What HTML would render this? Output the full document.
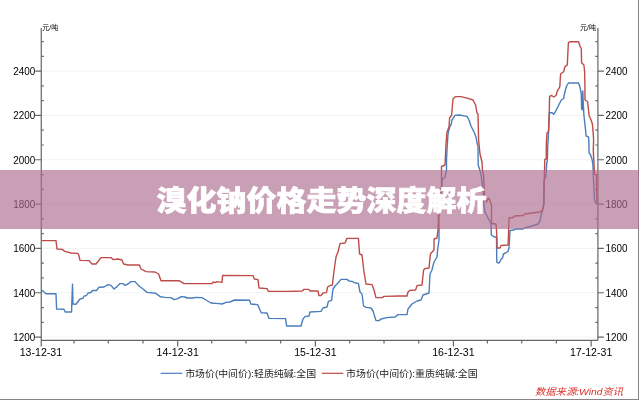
<!DOCTYPE html>
<html lang="zh-CN">
<head>
<meta charset="utf-8">
<title>溴化钠价格走势深度解析</title>
<style>
html,body{margin:0;padding:0;background:#fff;}
body{width:639px;height:400px;overflow:hidden;position:relative;font-family:"Liberation Sans","Noto Sans CJK SC",sans-serif;}
.wrap{position:absolute;left:0;top:0;width:638px;height:399px;border-right:1px solid #858585;border-bottom:1px solid #858585;background:#fff;}
svg{position:absolute;left:0;top:0;display:block;}
.num{font-family:"Liberation Sans",sans-serif;font-size:10.5px;fill:#000;}
.unit{font-family:"Liberation Sans","Noto Sans CJK SC",sans-serif;font-size:6.5px;fill:#000;}
.leg{font-family:"Liberation Sans","Noto Sans CJK SC",sans-serif;font-size:9.5px;fill:#222;}
.src{font-family:"Liberation Sans","Noto Sans CJK SC",sans-serif;font-size:9.5px;fill:#d8302a;font-style:italic;}
.band{position:absolute;left:0;top:169.8px;width:639px;height:58.8px;background:rgba(170,108,142,0.65);}
.title{position:absolute;left:2px;top:171.3px;transform:scaleY(0.96);transform-origin:center center;width:639px;height:59px;line-height:59px;text-align:center;color:#fff;font-weight:900;font-size:30px;font-family:"Liberation Sans","Noto Sans CJK SC",sans-serif;white-space:nowrap;margin:0;-webkit-text-stroke:0.7px #fff;}
</style>
</head>
<body>
<div class="wrap">
<svg width="639" height="400" viewBox="0 0 639 400">
<line x1="41.25" y1="71.1" x2="597.9" y2="71.1" stroke="#f2f2f2" stroke-width="1"/>
<line x1="41.25" y1="115.43" x2="597.9" y2="115.43" stroke="#f2f2f2" stroke-width="1"/>
<line x1="41.25" y1="159.76" x2="597.9" y2="159.76" stroke="#f2f2f2" stroke-width="1"/>
<line x1="41.25" y1="204.09" x2="597.9" y2="204.09" stroke="#f2f2f2" stroke-width="1"/>
<line x1="41.25" y1="248.42" x2="597.9" y2="248.42" stroke="#f2f2f2" stroke-width="1"/>
<line x1="41.25" y1="292.75" x2="597.9" y2="292.75" stroke="#f2f2f2" stroke-width="1"/>
<line x1="41.25" y1="337.08" x2="597.9" y2="337.08" stroke="#f2f2f2" stroke-width="1"/>
<path d="M41.25 28 V346.6 M597.9 28 V340.3 M41.25 340.3 H597.9" stroke="#666" stroke-width="1.2" fill="none"/>
<path d="M41.25 41.5467 H43.75 M595.4 41.5467 H597.9 M41.25 56.3233 H43.75 M595.4 56.3233 H597.9 M35.25 71.1 H41.25 M597.9 71.1 H603.9 M41.25 85.8767 H43.75 M595.4 85.8767 H597.9 M41.25 100.653 H43.75 M595.4 100.653 H597.9 M35.25 115.43 H41.25 M597.9 115.43 H603.9 M41.25 130.207 H43.75 M595.4 130.207 H597.9 M41.25 144.983 H43.75 M595.4 144.983 H597.9 M35.25 159.76 H41.25 M597.9 159.76 H603.9 M41.25 174.537 H43.75 M595.4 174.537 H597.9 M41.25 189.313 H43.75 M595.4 189.313 H597.9 M35.25 204.09 H41.25 M597.9 204.09 H603.9 M41.25 218.867 H43.75 M595.4 218.867 H597.9 M41.25 233.643 H43.75 M595.4 233.643 H597.9 M35.25 248.42 H41.25 M597.9 248.42 H603.9 M41.25 263.197 H43.75 M595.4 263.197 H597.9 M41.25 277.973 H43.75 M595.4 277.973 H597.9 M35.25 292.75 H41.25 M597.9 292.75 H603.9 M41.25 307.527 H43.75 M595.4 307.527 H597.9 M41.25 322.303 H43.75 M595.4 322.303 H597.9 M35.25 337.08 H41.25 M597.9 337.08 H603.9 M73.97 340.3 V343.5 M108.295 340.3 V343.5 M142.998 340.3 V343.5 M177.7 340.3 V346.6 M211.648 340.3 V343.5 M245.973 340.3 V343.5 M280.676 340.3 V343.5 M315.378 340.3 V346.6 M349.703 340.3 V343.5 M384.028 340.3 V343.5 M418.731 340.3 V343.5 M453.433 340.3 V346.6 M487.381 340.3 V343.5 M521.706 340.3 V343.5 M556.409 340.3 V343.5 M591.111 340.3 V346.6" stroke="#666" stroke-width="1.2" fill="none"/>
<text x="13.2" y="74.9" class="num" textLength="22" lengthAdjust="spacingAndGlyphs">2400</text>
<text x="605.6" y="74.9" class="num" textLength="22" lengthAdjust="spacingAndGlyphs">2400</text>
<text x="13.2" y="119.23" class="num" textLength="22" lengthAdjust="spacingAndGlyphs">2200</text>
<text x="605.6" y="119.23" class="num" textLength="22" lengthAdjust="spacingAndGlyphs">2200</text>
<text x="13.2" y="163.56" class="num" textLength="22" lengthAdjust="spacingAndGlyphs">2000</text>
<text x="605.6" y="163.56" class="num" textLength="22" lengthAdjust="spacingAndGlyphs">2000</text>
<text x="13.2" y="207.89" class="num" textLength="22" lengthAdjust="spacingAndGlyphs">1800</text>
<text x="605.6" y="207.89" class="num" textLength="22" lengthAdjust="spacingAndGlyphs">1800</text>
<text x="13.2" y="252.22" class="num" textLength="22" lengthAdjust="spacingAndGlyphs">1600</text>
<text x="605.6" y="252.22" class="num" textLength="22" lengthAdjust="spacingAndGlyphs">1600</text>
<text x="13.2" y="296.55" class="num" textLength="22" lengthAdjust="spacingAndGlyphs">1400</text>
<text x="605.6" y="296.55" class="num" textLength="22" lengthAdjust="spacingAndGlyphs">1400</text>
<text x="13.2" y="340.88" class="num" textLength="22" lengthAdjust="spacingAndGlyphs">1200</text>
<text x="605.6" y="340.88" class="num" textLength="22" lengthAdjust="spacingAndGlyphs">1200</text>
<text x="40.9" y="356.2" text-anchor="middle" class="num" textLength="42.4" lengthAdjust="spacingAndGlyphs">13-12-31</text>
<text x="177.7" y="356.2" text-anchor="middle" class="num" textLength="42.4" lengthAdjust="spacingAndGlyphs">14-12-31</text>
<text x="315.378" y="356.2" text-anchor="middle" class="num" textLength="42.4" lengthAdjust="spacingAndGlyphs">15-12-31</text>
<text x="453.433" y="356.2" text-anchor="middle" class="num" textLength="42.4" lengthAdjust="spacingAndGlyphs">16-12-31</text>
<text x="591.111" y="356.2" text-anchor="middle" class="num" textLength="42.4" lengthAdjust="spacingAndGlyphs">17-12-31</text>
<text x="42.2" y="29.8" class="unit" textLength="16" lengthAdjust="spacingAndGlyphs">元/吨</text>
<text x="580" y="29.8" class="unit" textLength="16" lengthAdjust="spacingAndGlyphs">元/吨</text>
<path d="M41.6 290 L46 293.8 L56 293.8 L56.6 309 L64 309.2 L65.2 312 L71.6 312 L71.8 304 L72.5 284.2 L73 304 L76 304.2 L80 299 L83 298.2 L84 296.2 L86.5 295.5 L88 293 L91 292.5 L92.5 290.5 L96.5 290.5 L99 287.2 L104 287 L108 284.6 L111 285.4 L114 289 L117 286.6 L120 283.6 L123 283.6 L125 285.4 L128 284 L131 281.6 L135 281.6 L139 286 L143 289 L147 292.4 L155.4 293.2 L160.6 296.8 L165 297.4 L171 297.6 L174 299.6 L178 298.6 L181 296.6 L185 297 L187 298 L193 298 L196 297.4 L202 297.6 L206 300 L211 303 L219 303.6 L222 304 L226 302.4 L230 302 L234.4 300 L249.6 300.3 L250.8 304 L257.6 304.6 L259.6 309 L261.2 312.8 L267 313 L269 318.4 L285.6 318.6 L286.6 326 L301 326 L303 319 L305 316.6 L309 316 L310 312 L321 311.4 L323 308 L327 307 L328.4 301.4 L331.6 300.4 L333 289 L335 286 L338 283 L341 279.4 L347 279.4 L349 281 L352 281.4 L355 283 L358.4 283.4 L360 292 L362 294 L363.6 306 L366 307.4 L371 308 L373 311 L376 320.6 L379 320.6 L381 319 L387 317.6 L395 317 L398 314.6 L407 314.6 L408 309 L412 304 L417 301 L421 300 L423 295 L429 293 L430 274 L432 270 L434 262 L437 257 L437.6 250 L439 240 L439 214 L442.5 179 L445 177 L446.5 170 L446.5 160 L447 150 L448 134 L449.6 127 L451 125 L452 120 L455 115.4 L459 115 L467 116.4 L469 120 L471 126 L474 132 L476 137 L477 143 L478 146 L478.2 165 L479.5 169 L481 175 L482.5 185 L483.5 195 L484 206 L485 212 L487 216 L489 220 L491 223.5 L491.3 235 L493.5 236.5 L496.5 237.5 L496.8 262 L498 263 L499.5 262.5 L501 259.5 L502.5 258 L503.5 254 L505.5 253 L508 251.5 L509 248 L509.5 240 L510 230.5 L514 230 L515.5 229 L523 229 L524.5 228 L532 226 L538 224 L540 221 L541 215 L543 209 L544 203 L544.4 179 L545.8 177.6 L546.7 164 L547.3 161 L547.8 145 L548.5 133 L549.3 112.8 L552.3 112.8 L553.8 114.3 L556 110.5 L559 104.5 L561.3 100 L563.6 98.5 L565 91.5 L566.6 86 L568.4 83 L578.6 83 L580 87 L581.3 94 L581.6 109 L582.4 109.8 L582.8 91 L583.1 100 L583.9 115 L585.4 128.6 L586.1 136 L588.4 136.8 L588.8 140 L589.1 152.8 L590.6 155 L592.1 159.5 L592.9 164.8 L593.3 175 L594.5 200 L596.5 204 L597 204" stroke="#4a7ebb" stroke-width="1.4" fill="none" stroke-linejoin="round"/>
<path d="M41.5 240.6 L56 240.6 L57 249 L62 249.4 L65 251.4 L71 253 L78 253.4 L79 256 L80 260.4 L89 260.6 L92 264 L96 264 L101 257.6 L111 257.6 L113 259.6 L118 259 L122 260 L123.6 264 L128 265 L139.4 265 L141 269 L146 271.6 L155 272 L158.6 274 L161 280.8 L179 280.6 L184 283.6 L212 283.6 L213 282 L215 282.6 L217 281.6 L222 282.4 L222.6 275.4 L253 275.6 L254.4 279 L258 279.6 L259 288 L267 288.6 L268.4 291.4 L288 291.4 L302 291 L304 289.4 L309 289.4 L310 291 L318 291 L319 295.6 L321 295.6 L323 293 L326.4 292.6 L327.6 287 L330 285.6 L332.4 285 L334 271 L336 257 L338 252 L340 243.6 L345 243 L347 238.4 L358.4 238.4 L359.6 254 L362 255 L364 272 L366 284 L372 284.6 L374 290 L376 297.6 L382 297.6 L384 296.4 L400 296 L407 296 L408 292 L410 290.4 L415.6 290 L417 285.6 L422 285 L423.6 270 L425 268.6 L429 268 L430.4 254 L433 251 L434 250 L434 239 L437 238 L438 230 L438.5 214 L441.5 186 L441.5 166.5 L445 165 L446 144 L447 132 L449 127 L449.6 118 L451.6 115 L453 99 L455.6 96.6 L461 96.6 L468 98.4 L473 100 L475.6 105 L477 113 L478 114 L478.6 140 L480 154 L482 162 L482.5 171 L483.5 175 L484.5 195 L486.5 202 L488.5 198 L490 201 L491.5 205 L491.5 223.5 L496 224 L496.5 230 L497 240 L497 248 L500 248 L501 245.5 L508 245 L508.5 235 L509 218 L513 217.5 L514.5 216 L523 215.5 L524.5 214 L532 213 L540 212 L542.4 210 L543.6 205 L544 180.6 L544.3 179 L544.8 159.5 L546.3 158.8 L546.3 145 L547 133 L548.5 131.6 L549.3 112 L549.6 96.3 L551.6 95.5 L553.8 97 L556 95.5 L557.6 90.3 L559.8 86.8 L560.6 74 L563.6 71.8 L565 66.6 L567.3 65 L568.4 42.5 L569.6 41.8 L578.6 41.8 L580 46.3 L581.3 48.5 L581.6 62.8 L583.9 65 L584.6 71 L584.9 85 L585 100 L587.6 101.5 L589.1 115.8 L590.6 118.8 L592.4 124 L593.3 134.6 L593.6 140 L593.3 150.5 L593.9 162.5 L594.5 174 L596.5 175 L596.5 189 L597 204" stroke="#be4b48" stroke-width="1.4" fill="none" stroke-linejoin="round"/>
<line x1="160.7" y1="373.3" x2="182.4" y2="373.3" stroke="#4a7ebb" stroke-width="1.2"/>
<text x="185.2" y="377.3" class="leg" textLength="131" lengthAdjust="spacingAndGlyphs">市场价(中间价):轻质纯碱:全国</text>
<line x1="321.8" y1="373.3" x2="343.2" y2="373.3" stroke="#be4b48" stroke-width="1.2"/>
<text x="346" y="377.3" class="leg" textLength="131.6" lengthAdjust="spacingAndGlyphs">市场价(中间价):重质纯碱:全国</text>
<text x="535" y="395.4" class="src" textLength="88" lengthAdjust="spacingAndGlyphs">数据来源:Wind资讯</text>
</svg>
</div>
<div class="band"></div>
<h1 class="title">溴化钠价格走势深度解析</h1>
</body>
</html>
